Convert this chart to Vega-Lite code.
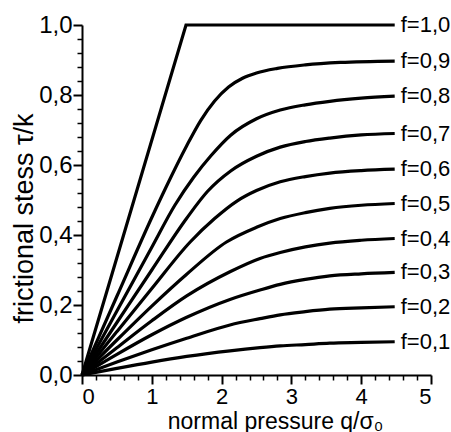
{
  "$schema": "https://vega.github.io/schema/vega-lite/v6.json",
  "autosize": "none",
  "padding": {"left": 82, "top": 25, "right": 20, "bottom": 57},
  "width": 349,
  "height": 350,
  "background": "white",
  "view": {"stroke": null},
  "config": {
    "font": "Liberation Sans",
    "axis": {"grid": false, "domainColor": "black", "tickColor": "black", "labelColor": "black", "titleColor": "black", "labelFont": "Liberation Sans", "titleFont": "Liberation Sans", "titleFontWeight": "normal", "labelOverlap": false, "tickCount": 100}
  },
  "data": {"values": [
    {"f": "f=1,0", "x": 0, "y": 0},
    {"f": "f=1,0", "x": 1.49, "y": 1.0},
    {"f": "f=1,0", "x": 4.48, "y": 1.0},
    {"f": "f=0,9", "x": 0, "y": 0},
    {"f": "f=0,9", "x": 0.5, "y": 0.225},
    {"f": "f=0,9", "x": 1.0, "y": 0.45},
    {"f": "f=0,9", "x": 1.2, "y": 0.535},
    {"f": "f=0,9", "x": 1.5, "y": 0.655},
    {"f": "f=0,9", "x": 1.7, "y": 0.727},
    {"f": "f=0,9", "x": 1.9, "y": 0.783},
    {"f": "f=0,9", "x": 2.1, "y": 0.823},
    {"f": "f=0,9", "x": 2.3, "y": 0.848},
    {"f": "f=0,9", "x": 2.5, "y": 0.863},
    {"f": "f=0,9", "x": 2.8, "y": 0.876},
    {"f": "f=0,9", "x": 3.2, "y": 0.886},
    {"f": "f=0,9", "x": 3.7, "y": 0.893},
    {"f": "f=0,9", "x": 4.48, "y": 0.897},
    {"f": "f=0,8", "x": 0, "y": 0},
    {"f": "f=0,8", "x": 0.5, "y": 0.183},
    {"f": "f=0,8", "x": 1.0, "y": 0.365},
    {"f": "f=0,8", "x": 1.33, "y": 0.485},
    {"f": "f=0,8", "x": 1.6, "y": 0.565},
    {"f": "f=0,8", "x": 1.85, "y": 0.627},
    {"f": "f=0,8", "x": 2.13, "y": 0.685},
    {"f": "f=0,8", "x": 2.5, "y": 0.732},
    {"f": "f=0,8", "x": 2.84, "y": 0.757},
    {"f": "f=0,8", "x": 3.2, "y": 0.772},
    {"f": "f=0,8", "x": 3.55, "y": 0.782},
    {"f": "f=0,8", "x": 4.0, "y": 0.791},
    {"f": "f=0,8", "x": 4.48, "y": 0.797},
    {"f": "f=0,7", "x": 0, "y": 0},
    {"f": "f=0,7", "x": 0.5, "y": 0.15},
    {"f": "f=0,7", "x": 1.0, "y": 0.3},
    {"f": "f=0,7", "x": 1.5, "y": 0.448},
    {"f": "f=0,7", "x": 1.8, "y": 0.525},
    {"f": "f=0,7", "x": 2.13, "y": 0.583},
    {"f": "f=0,7", "x": 2.5, "y": 0.625},
    {"f": "f=0,7", "x": 2.84, "y": 0.651},
    {"f": "f=0,7", "x": 3.2, "y": 0.667},
    {"f": "f=0,7", "x": 3.55, "y": 0.677},
    {"f": "f=0,7", "x": 4.0, "y": 0.686},
    {"f": "f=0,7", "x": 4.48, "y": 0.69},
    {"f": "f=0,6", "x": 0, "y": 0},
    {"f": "f=0,6", "x": 0.5, "y": 0.124},
    {"f": "f=0,6", "x": 1.0, "y": 0.247},
    {"f": "f=0,6", "x": 1.55, "y": 0.38},
    {"f": "f=0,6", "x": 1.9, "y": 0.447},
    {"f": "f=0,6", "x": 2.22, "y": 0.497},
    {"f": "f=0,6", "x": 2.5, "y": 0.527},
    {"f": "f=0,6", "x": 2.84, "y": 0.552},
    {"f": "f=0,6", "x": 3.2, "y": 0.567},
    {"f": "f=0,6", "x": 3.55, "y": 0.577},
    {"f": "f=0,6", "x": 4.0, "y": 0.584},
    {"f": "f=0,6", "x": 4.48, "y": 0.588},
    {"f": "f=0,5", "x": 0, "y": 0},
    {"f": "f=0,5", "x": 0.5, "y": 0.1},
    {"f": "f=0,5", "x": 1.0, "y": 0.197},
    {"f": "f=0,5", "x": 1.5, "y": 0.288},
    {"f": "f=0,5", "x": 2.07, "y": 0.38},
    {"f": "f=0,5", "x": 2.5, "y": 0.422},
    {"f": "f=0,5", "x": 2.84, "y": 0.447},
    {"f": "f=0,5", "x": 3.2, "y": 0.464},
    {"f": "f=0,5", "x": 3.55, "y": 0.476},
    {"f": "f=0,5", "x": 4.0, "y": 0.485},
    {"f": "f=0,5", "x": 4.48, "y": 0.49},
    {"f": "f=0,4", "x": 0, "y": 0},
    {"f": "f=0,4", "x": 0.5, "y": 0.078},
    {"f": "f=0,4", "x": 1.0, "y": 0.155},
    {"f": "f=0,4", "x": 1.5, "y": 0.226},
    {"f": "f=0,4", "x": 2.12, "y": 0.295},
    {"f": "f=0,4", "x": 2.55, "y": 0.333},
    {"f": "f=0,4", "x": 2.84, "y": 0.35},
    {"f": "f=0,4", "x": 3.2, "y": 0.366},
    {"f": "f=0,4", "x": 3.55, "y": 0.377},
    {"f": "f=0,4", "x": 4.0, "y": 0.385},
    {"f": "f=0,4", "x": 4.48, "y": 0.39},
    {"f": "f=0,3", "x": 0, "y": 0},
    {"f": "f=0,3", "x": 0.5, "y": 0.059},
    {"f": "f=0,3", "x": 1.0, "y": 0.115},
    {"f": "f=0,3", "x": 1.5, "y": 0.165},
    {"f": "f=0,3", "x": 2.12, "y": 0.216},
    {"f": "f=0,3", "x": 2.55, "y": 0.243},
    {"f": "f=0,3", "x": 2.84, "y": 0.259},
    {"f": "f=0,3", "x": 3.2, "y": 0.273},
    {"f": "f=0,3", "x": 3.55, "y": 0.283},
    {"f": "f=0,3", "x": 4.0, "y": 0.289},
    {"f": "f=0,3", "x": 4.48, "y": 0.293},
    {"f": "f=0,2", "x": 0, "y": 0},
    {"f": "f=0,2", "x": 0.5, "y": 0.037},
    {"f": "f=0,2", "x": 1.0, "y": 0.072},
    {"f": "f=0,2", "x": 1.5, "y": 0.105},
    {"f": "f=0,2", "x": 2.12, "y": 0.143},
    {"f": "f=0,2", "x": 2.55, "y": 0.161},
    {"f": "f=0,2", "x": 2.84, "y": 0.172},
    {"f": "f=0,2", "x": 3.2, "y": 0.181},
    {"f": "f=0,2", "x": 3.55, "y": 0.188},
    {"f": "f=0,2", "x": 4.0, "y": 0.192},
    {"f": "f=0,2", "x": 4.48, "y": 0.195},
    {"f": "f=0,1", "x": 0, "y": 0},
    {"f": "f=0,1", "x": 0.5, "y": 0.019},
    {"f": "f=0,1", "x": 1.0, "y": 0.037},
    {"f": "f=0,1", "x": 1.5, "y": 0.053},
    {"f": "f=0,1", "x": 2.12, "y": 0.069},
    {"f": "f=0,1", "x": 2.55, "y": 0.078},
    {"f": "f=0,1", "x": 2.84, "y": 0.083},
    {"f": "f=0,1", "x": 3.2, "y": 0.087},
    {"f": "f=0,1", "x": 3.55, "y": 0.091},
    {"f": "f=0,1", "x": 4.0, "y": 0.093},
    {"f": "f=0,1", "x": 4.48, "y": 0.095}
  ]},
  "layer": [
    {
      "transform": [{"filter": "datum.f != 'f=1,0'"}],
      "mark": {"type": "line", "interpolate": "monotone", "color": "black", "strokeWidth": 3.2},
      "encoding": {
        "x": {"field": "x", "type": "quantitative", "scale": {"domain": [0, 5], "nice": false},
          "axis": {"orient": "bottom",
            "values": [0, 0.2, 0.4, 0.6, 0.8, 1, 1.2, 1.4, 1.6, 1.8, 2, 2.2, 2.4, 2.6, 2.8, 3, 3.2, 3.4, 3.6, 3.8, 4, 4.2, 4.4, 4.6, 4.8, 5],
            "labelExpr": "abs(datum.value - round(datum.value)) < 0.001 ? format(datum.value, 'd') : ''",
            "tickSize": {"condition": {"test": "abs(datum.value - round(datum.value)) < 0.001", "value": 9}, "value": 5},
            "tickWidth": {"condition": {"test": "abs(datum.value - round(datum.value)) < 0.001", "value": 2}, "value": 1.5},
            "domainWidth": 2, "labelFontSize": 22, "labelPadding": 2,
            "title": "normal pressure q/σ₀", "titleFontSize": 23, "titleX": 193, "titleY": 53, "titleBaseline": "alphabetic"}},
        "y": {"field": "y", "type": "quantitative", "scale": {"domain": [0, 1], "nice": false},
          "axis": {"orient": "left",
            "values": [0, 0.04, 0.08, 0.12, 0.16, 0.2, 0.24, 0.28, 0.32, 0.36, 0.4, 0.44, 0.48, 0.52, 0.56, 0.6, 0.64, 0.68, 0.72, 0.76, 0.8, 0.84, 0.88, 0.92, 0.96, 1.0],
            "labelExpr": "abs(datum.value * 5 - round(datum.value * 5)) < 0.001 ? replace(format(datum.value, '.1f'), '.', ',') : ''",
            "tickSize": {"condition": {"test": "abs(datum.value * 5 - round(datum.value * 5)) < 0.001", "value": 9}, "value": 5},
            "tickWidth": {"condition": {"test": "abs(datum.value * 5 - round(datum.value * 5)) < 0.001", "value": 2}, "value": 1.5},
            "domainWidth": 2, "labelFontSize": 24, "labelPadding": 1,
            "title": "frictional stess τ/k", "titleFontSize": 27, "titleAngle": 270, "titleX": -58, "titleY": 193, "titleAlign": "center", "titleBaseline": "middle"}},
        "detail": {"field": "f"}
      }
    },
    {
      "transform": [{"filter": "datum.f == 'f=1,0'"}],
      "mark": {"type": "line", "interpolate": "linear", "color": "black", "strokeWidth": 3.2},
      "encoding": {
        "x": {"field": "x", "type": "quantitative"},
        "y": {"field": "y", "type": "quantitative"},
        "detail": {"field": "f"}
      }
    },
    {
      "transform": [{"filter": "datum.x == 4.48"}],
      "mark": {"type": "text", "align": "left", "baseline": "middle", "dx": 6, "fontSize": 22, "color": "black", "font": "Liberation Sans"},
      "encoding": {
        "x": {"field": "x", "type": "quantitative"},
        "y": {"field": "y", "type": "quantitative"},
        "text": {"field": "f"}
      }
    }
  ]
}
